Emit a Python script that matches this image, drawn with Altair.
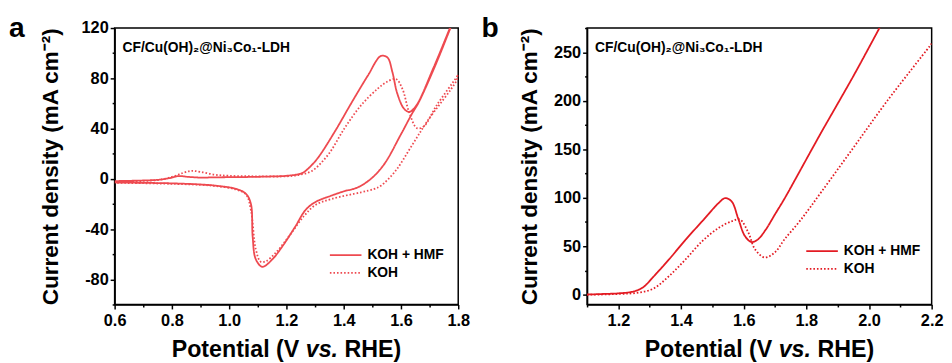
import altair as alt
import pandas as pd

FONT = "Liberation Sans"
RED_A = "#EE4A50"
RED_B = "#E31B23"
SERIES = ["KOH + HMF", "KOH"]
DASHES = [[1, 0], [1.6, 2.0]]

# ---------- panel a: CV curves (forward sweep then reverse sweep) ----------
a_hmf_v = [0.60, 0.65, 0.70, 0.75, 0.79, 0.823, 0.86, 0.90, 0.955, 1.05, 1.15, 1.20, 1.254, 1.28, 1.311,
           1.369, 1.426, 1.484, 1.53, 1.553, 1.57, 1.587, 1.61, 1.628, 1.651, 1.714, 1.771, 1.80,
           1.771, 1.714, 1.66, 1.639, 1.599, 1.541, 1.495, 1.449, 1.40, 1.358, 1.30, 1.266, 1.231,
           1.185, 1.151, 1.116, 1.093, 1.082, 1.076, 1.059, 1.024, 0.955, 0.90, 0.80, 0.70, 0.60]
a_hmf_j = [-1.8, -1.6, -1.3, -0.8, 0.5, 2.2, 1.5, 1.0, 1.2, 1.4, 1.9, 2.4, 4.5, 9, 17,
           37.6, 60, 82, 97.8, 96.5, 85, 68, 56, 53.3, 57.5, 88.6, 120, 136,
           119, 87, 60, 52, 35, 11.5, 0, -6.8, -10, -13.3, -18.6, -25, -38,
           -54, -64, -70, -64, -46, -20, -12, -8, -5.5, -4.5, -3.6, -3.2, -2.9]

a_koh_v = [0.60, 0.65, 0.70, 0.75, 0.80, 0.84, 0.869, 0.90, 0.95, 1.00, 1.10, 1.20, 1.241, 1.289, 1.346,
           1.403, 1.461, 1.518, 1.55, 1.582, 1.605, 1.628, 1.656, 1.679, 1.725, 1.794, 1.80,
           1.794, 1.691, 1.633, 1.58, 1.53, 1.507, 1.461, 1.358, 1.30, 1.26, 1.208, 1.162, 1.128,
           1.11, 1.093, 1.076, 1.059, 1.024, 0.955, 0.90, 0.80, 0.70, 0.60]
a_koh_j = [-2.5, -2.2, -1.7, -1.0, 1.5, 4.8, 6.3, 5.5, 3.3, 2.4, 2.0, 2.0, 3.0, 6.3, 19.3,
           40.3, 58.6, 71.6, 77, 79.5, 71.6, 53.3, 40.3, 41.6, 58.6, 80.8, 83,
           78.2, 45.5, 24.6, 6, -5.5, -8, -10.7, -16, -21, -30, -46, -59, -65.6,
           -66, -56, -25, -12.5, -8.5, -5.8, -4.8, -4.0, -3.5, -3.2]

# ---------- panel b: LSV curves ----------
b_hmf_v = [1.10, 1.15, 1.20, 1.25, 1.28, 1.31, 1.363, 1.415, 1.468, 1.52, 1.541, 1.562, 1.583, 1.604,
           1.625, 1.645, 1.67, 1.70, 1.73, 1.78, 1.846, 1.90, 1.951, 2.00, 2.03, 2.05]
b_hmf_j = [0.3, 0.8, 1.5, 3.5, 8, 18, 37, 57, 76, 94.6, 99.7, 96, 78, 60.5,
           54.4, 57, 67, 83, 99, 128, 166.5, 197, 226, 255, 273, 285]

b_koh_v = [1.10, 1.20, 1.258, 1.31, 1.363, 1.415, 1.468, 1.52, 1.562, 1.588, 1.615, 1.636, 1.667,
           1.699, 1.73, 1.783, 1.85, 1.951, 2.056, 2.193, 2.20]
b_koh_j = [0.0, 0.8, 2.0, 6.1, 19.7, 36.7, 55.4, 69, 75.8, 77.6, 64, 47, 38.5,
           43.6, 57, 77.6, 107, 152, 199, 256, 259]

# axis tick values (major + minor)
a_xticks = [0.6, 0.7, 0.8, 0.9, 1.0, 1.1, 1.2, 1.3, 1.4, 1.5, 1.6, 1.7, 1.8]
a_yticks = [-100, -80, -60, -40, -20, 0, 20, 40, 60, 80, 100, 120]
b_xticks = [1.1, 1.2, 1.3, 1.4, 1.5, 1.6, 1.7, 1.8, 1.9, 2.0, 2.1, 2.2]
b_yticks = [0, 25, 50, 75, 100, 125, 150, 175, 200, 225, 250, 275]

SAMPLE = "CF/Cu(OH)\u2082@Ni\u2083Co\u2081-LDH"
YTITLE = "Current density (mA cm\u207b\u00b2)"


def make_df(v1, j1, v2, j2):
    rows = []
    for i, (v, j) in enumerate(zip(v1, j1)):
        rows.append({"V": v, "j": j, "series": SERIES[0], "i": i})
    for i, (v, j) in enumerate(zip(v2, j2)):
        rows.append({"V": v, "j": j, "series": SERIES[1], "i": i})
    return pd.DataFrame(rows)


one = pd.DataFrame({"k": [0]})


def txt(text, x, y, size, align="left", baseline="alphabetic", style="normal"):
    return alt.Chart(one).mark_text(
        text=text, font=FONT, fontSize=size, fontWeight="bold", fontStyle=style,
        align=align, baseline=baseline, color="black"
    ).encode(x=alt.value(x), y=alt.value(y))


def legend_row(color, dash, x0, x1, y, label):
    rule = alt.Chart(one).mark_rule(color=color, strokeWidth=1.8, strokeDash=dash).encode(
        x=alt.value(x0), x2=alt.value(x1), y=alt.value(y))
    return [rule, txt(label, x1 + 6, y, 14, baseline="middle")]


def panel(df, color, xdom, ydom, xticks, yticks, xminor, yminor,
          W, H, letter, ytitle_x, legx, legy):
    xaxis = alt.Axis(
        values=xticks, title=None, grid=False, labelFlush=False,
        labelExpr=f"({xminor}) ? '' : format(datum.value, '.1f')",
        tickSize={"condition": {"test": xminor, "value": 2.5}, "value": 4.5},
        labelPadding=4,
    )
    yaxis = alt.Axis(
        values=yticks, grid=False, title=YTITLE, labelFlush=False,
        labelExpr=f"({yminor}) ? '' : toString(round(datum.value))",
        tickSize={"condition": {"test": yminor, "value": 2.5}, "value": 4.5},
        labelPadding=2,
        titleX=-ytitle_x, titleY=H / 2, titleAngle=270, titleAlign="center",
        titleBaseline="middle", titleFont=FONT, titleFontSize=22.8, titleFontWeight="bold",
        titleColor="black",
    )
    lines = alt.Chart(df).mark_line(
        clip=True, strokeWidth=1.8, color=color, interpolate="catmull-rom"
    ).encode(
        x=alt.X("V:Q", scale=alt.Scale(domain=xdom, nice=False, zero=False), axis=xaxis),
        y=alt.Y("j:Q", scale=alt.Scale(domain=ydom, nice=False, zero=False), axis=yaxis),
        strokeDash=alt.StrokeDash(
            "series:N", scale=alt.Scale(domain=SERIES, range=DASHES), legend=None),
        order="i:Q",
    )
    cx = W / 2
    fs = 23.5
    # invisible spacer fixing the top edge of the panel's bounds
    spacer = alt.Chart(one).mark_rule(opacity=0, strokeWidth=0.5).encode(
        x=alt.value(0), x2=alt.value(5), y=alt.value(-17))
    layers = [
        lines,
        spacer,
        txt(SAMPLE, 8, 24, 14),
        txt(letter, -107, 9, 28.5),
        txt("Potential (V", cx + 13, H + 53, fs, align="right"),
        txt("vs.", cx + 19.6, H + 53, fs, align="left", style="italic"),
        txt("RHE)", cx + 58.8, H + 53, fs, align="left"),
    ]
    layers += legend_row(color, DASHES[0], legx, legx + 32, legy, SERIES[0])
    layers += legend_row(color, DASHES[1], legx, legx + 32, legy + 18, SERIES[1])
    return alt.layer(*layers).properties(width=W, height=H)


dfa = make_df(a_hmf_v, a_hmf_j, a_koh_v, a_koh_j)
dfb = make_df(b_hmf_v, b_hmf_j, b_koh_v, b_koh_j)

left = panel(dfa, RED_A, [0.6, 1.8], [-100, 120], a_xticks, a_yticks,
             "abs(round(datum.value*10)) % 2 == 1", "round(datum.value/20) % 2 != 0",
             348, 280, "a", 65, 218, 230)
right = panel(dfb, RED_B, [1.1, 2.2], [-10, 275], b_xticks, b_yticks,
              "abs(round(datum.value*10)) % 2 == 1", "round(datum.value/25) % 2 == 1",
              349, 280, "b", 58, 222, 226)

chart = alt.hconcat(left, right, spacing=9.5).resolve_scale(
    strokeDash="independent", x="independent", y="independent"
).properties(padding=0).configure_axis(
    labelFont=FONT, labelFontSize=16.5, labelFontWeight="bold", labelColor="black",
    tickColor="black", tickWidth=1.5, domainColor="black", domainWidth=1.5,
).configure_view(stroke="black", strokeWidth=1.5)

chart.save("out.html", embed_options={"renderer": "svg", "actions": False})
